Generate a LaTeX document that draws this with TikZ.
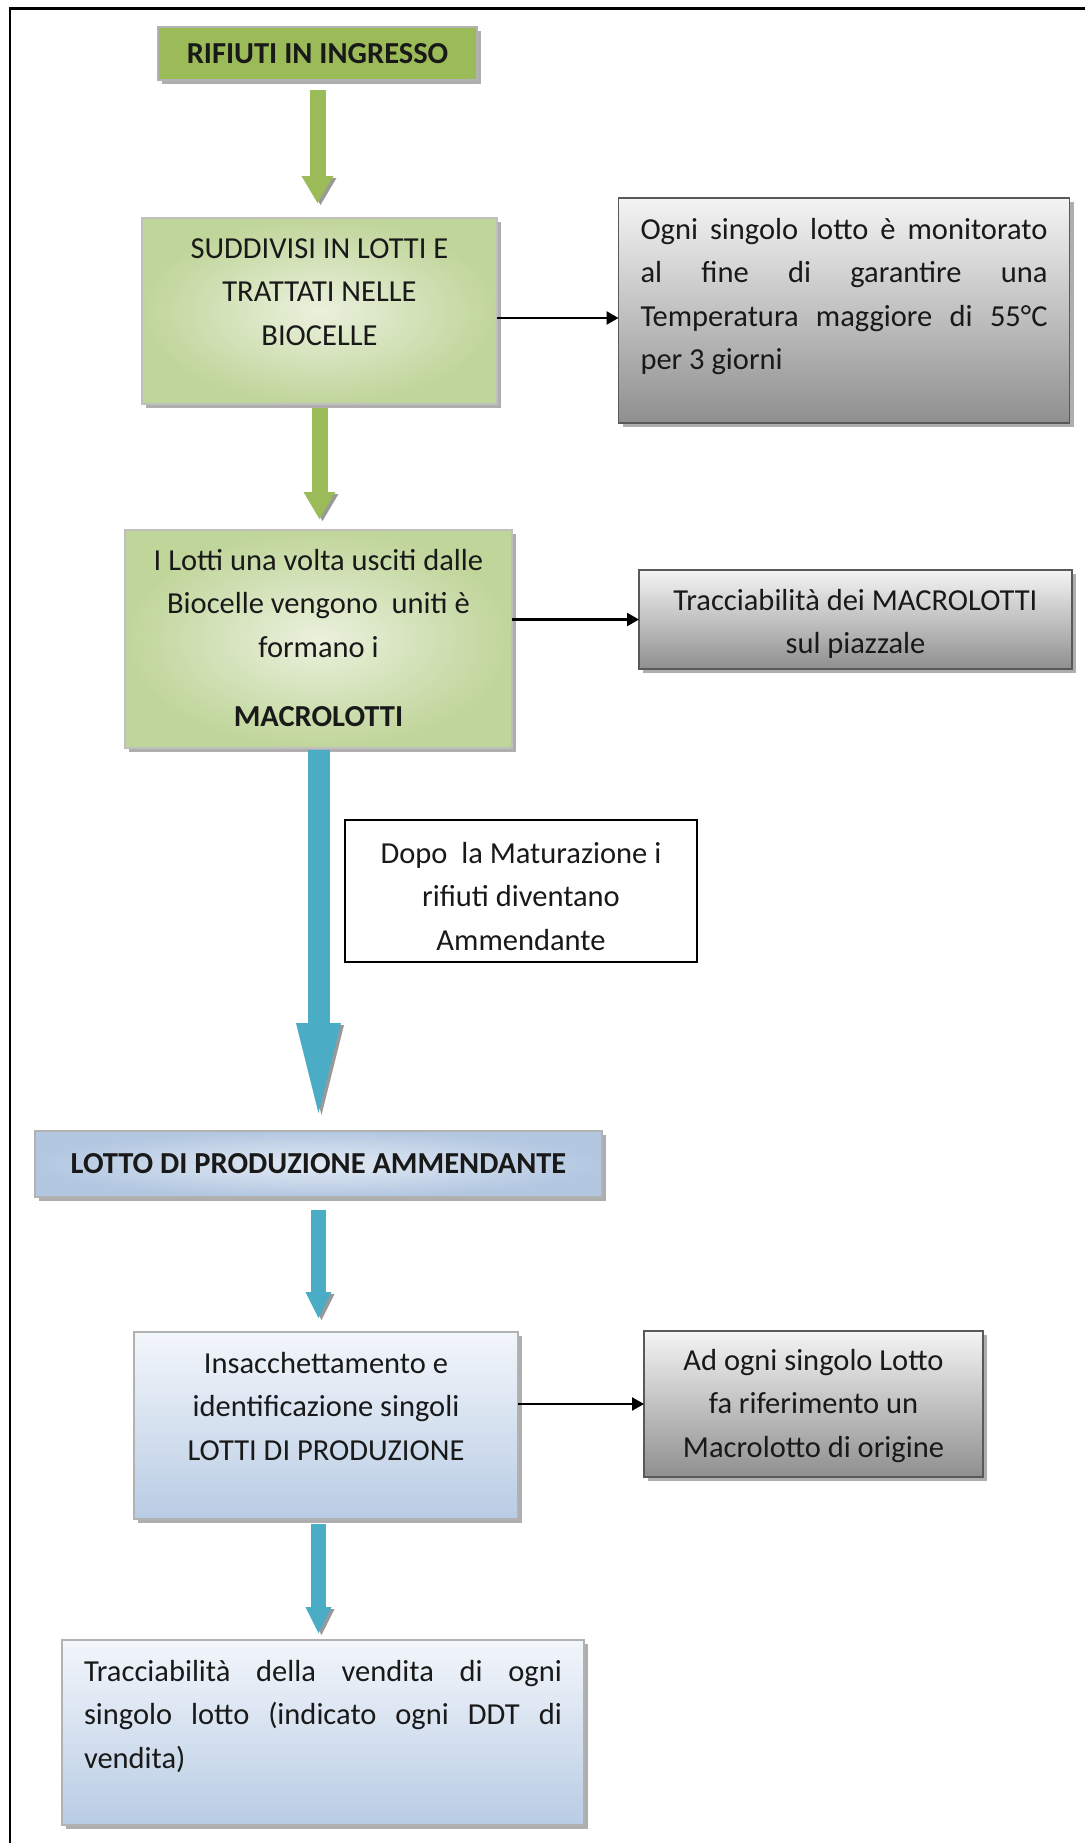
\documentclass[tikz,border=0pt]{standalone}
\usepackage{fontspec}
\setmainfont{Carlito}
\usetikzlibrary{arrows.meta,shadows,calc}
\definecolor{ogreen}{HTML}{9BBB59}
\definecolor{lgin}{HTML}{EAF1DD}
\definecolor{lgout}{HTML}{C0D59A}
\definecolor{aqua}{HTML}{4BACC6}
\definecolor{gtop}{HTML}{F4F4F4}
\definecolor{gbot}{HTML}{8F8F8F}
\definecolor{btop}{HTML}{F3F6FB}
\definecolor{bbot}{HTML}{B8CCE4}
\definecolor{bin}{HTML}{E2EAF4}
\definecolor{bout}{HTML}{B3C7E1}
\newcommand\bxt[4]{\parbox[c][#2][t]{#1}{\vspace*{#3}#4}}
\begin{document}
\begin{tikzpicture}[x=0.5pt,y=-0.5pt,
  every node/.style={font=\fontsize{15.25pt}{21.75pt}\selectfont, text=black!90},
  bx/.style={draw=#1, line width=0.6pt, inner sep=0pt, outer sep=0pt,
    drop shadow={shadow xshift=2pt, shadow yshift=-2pt, fill=black!45, opacity=0.7}},
  greenhead/.style={bx=gray!60, fill=ogreen, minimum width=159.5pt, minimum height=26.5pt},
  greenbox/.style={bx=gray!50, inner color=lgin, outer color=lgout},
  greybox/.style={bx=gray!70!black, top color=gtop, bottom color=gbot},
  bluebar/.style={bx=gray!60, inner color=bin, outer color=bout},
  bluebox/.style={bx=gray!60, top color=btop, bottom color=bbot},
  plainbox/.style={draw=black, line width=0.75pt, fill=white, inner sep=0pt},
  garrow/.style={draw=ogreen, line width=8pt, -{Triangle[length=13.5pt, width=16pt, line width=0pt]}},
  gshadow/.style={draw=gray!80, line width=8pt, -{Triangle[length=13.5pt, width=16pt, line width=0pt]}, transform canvas={xshift=1.5pt,yshift=-1pt}},
  bigarrow/.style={draw=aqua, line width=11pt, -{Triangle[length=45pt, width=22.5pt, line width=0pt]}},
  bigshadow/.style={draw=gray!80, line width=11pt, -{Triangle[length=45pt, width=22.5pt, line width=0pt]}, transform canvas={xshift=1.5pt,yshift=-1pt}},
  barrow/.style={draw=aqua, line width=7.5pt, -{Triangle[length=13pt, width=13pt, line width=0pt]}},
  bshadow/.style={draw=gray!80, line width=7.5pt, -{Triangle[length=13pt, width=13pt, line width=0pt]}, transform canvas={xshift=1.5pt,yshift=-1pt}},
  blackarrow/.style={draw=black, line width=1.2pt, -{Triangle[length=6pt, width=6.5pt]}}
]
\fill[white] (0,0) rectangle (1085,1843);
\useasboundingbox (0,0) rectangle (1085,1843);
% frame
\draw[line width=1.2pt] (1085,8.5) -- (10,8.5) -- (10,1843);

% nodes
\node[greenhead] (b1) at (317.5,53.5) {\bfseries RIFIUTI IN INGRESSO};
\node[greenbox] (b2) at (319.5,311) {\bxt{177.5pt}{93pt}{4.8pt}{\centering\strut SUDDIVISI IN LOTTI E\\TRATTATI NELLE\\BIOCELLE\par}};
\node[greybox, inner xsep=11pt] (b3) at (844,310.5) {\bxt{203.5pt}{112.5pt}{5.3pt}{\strut\makebox[\linewidth][s]{Ogni singolo lotto è monitorato}\\\makebox[\linewidth][s]{al fine di garantire una}\\\makebox[\linewidth][s]{Temperatura maggiore di 55°C}\\per 3 giorni\par}};
\node[greenbox] (b4) at (318.5,639) {\bxt{193.5pt}{109pt}{4.8pt}{\centering\strut I Lotti una volta usciti dalle\\Biocelle vengono\ \ uniti è\\formano i\\[12.75pt]\textbf{MACROLOTTI}\par}};
\node[greybox] (b5) at (855.5,619.5) {\bxt{216.5pt}{49.5pt}{4.8pt}{\centering\strut Tracciabilità dei MACROLOTTI\\sul piazzale\par}};
\node[plainbox] (b6) at (521,891) {\bxt{176pt}{71pt}{6.3pt}{\centering\strut Dopo\ \ la Maturazione i\\rifiuti diventano\\Ammendante\par}};
\node[bluebar, minimum width=283.5pt, minimum height=33pt] (b7) at (318.5,1164) {\bfseries LOTTO DI PRODUZIONE AMMENDANTE};
\node[bluebox] (b8) at (326,1425.5) {\bxt{192pt}{93.5pt}{5.3pt}{\centering\strut Insacchettamento e\\identificazione singoli\\LOTTI DI PRODUZIONE\par}};
\node[greybox] (b9) at (813.5,1404) {\bxt{169.5pt}{73pt}{4.3pt}{\centering\strut Ad ogni singolo Lotto\\fa riferimento un\\Macrolotto di origine\par}};
\node[bluebox, inner xsep=11pt] (b10) at (323,1732.5) {\bxt{239pt}{92.5pt}{5.3pt}{\strut\makebox[\linewidth][s]{Tracciabilità della vendita di ogni}\\\makebox[\linewidth][s]{singolo lotto (indicato ogni DDT di}\\vendita)\par}};

% arrow end points
\coordinate (a1s) at ($(b1.south)+(0,-5pt)$);
\coordinate (a1e) at ($(b1.south |- b2.north)+(0,7.5pt)$);
\coordinate (a2s) at ($(b2.south)+(0,-2pt)$);
\coordinate (a2e) at ($(b2.south |- b4.north)+(0,5.5pt)$);
\coordinate (a3s) at ($(b4.south)+(0,-1pt)$);
\coordinate (a3e) at ($(b4.south |- b7.north)+(0,9pt)$);
\coordinate (a4s) at ($(b7.south)+(0,-6.5pt)$);
\coordinate (a4e) at ($(b7.south |- b8.north)+(0,7pt)$);
\coordinate (a5s) at ($(b7.south |- b8.south)+(0,-2.5pt)$);
\coordinate (a5e) at ($(b7.south |- b10.north)+(0,3.5pt)$);

% shadows of arrow heads
\draw[gshadow] ($(a1e)+(0,14pt)$) -- (a1e);
\draw[gshadow] ($(a2e)+(0,14pt)$) -- (a2e);
\draw[bigshadow] ($(a3e)+(0,46pt)$) -- (a3e);
\draw[bshadow] ($(a4e)+(0,14pt)$) -- (a4e);
\draw[bshadow] ($(a5e)+(0,14pt)$) -- (a5e);

% block arrows
\draw[garrow] (a1s) -- (a1e);
\draw[garrow] (a2s) -- (a2e);
\draw[bigarrow] (a3s) -- (a3e);
\draw[barrow] (a4s) -- (a4e);
\draw[barrow] (a5s) -- (a5e);

% side connectors
\draw[blackarrow] ($(b2.east)+(0,-3.5pt)$) -- ($(b2.east -| b3.west)+(0,-3.5pt)$);
\draw[blackarrow] (b4.east |- b5.west) -- (b5.west);
\draw[blackarrow] (b8.east |- b9.west) -- (b9.west);
\end{tikzpicture}
\end{document}
